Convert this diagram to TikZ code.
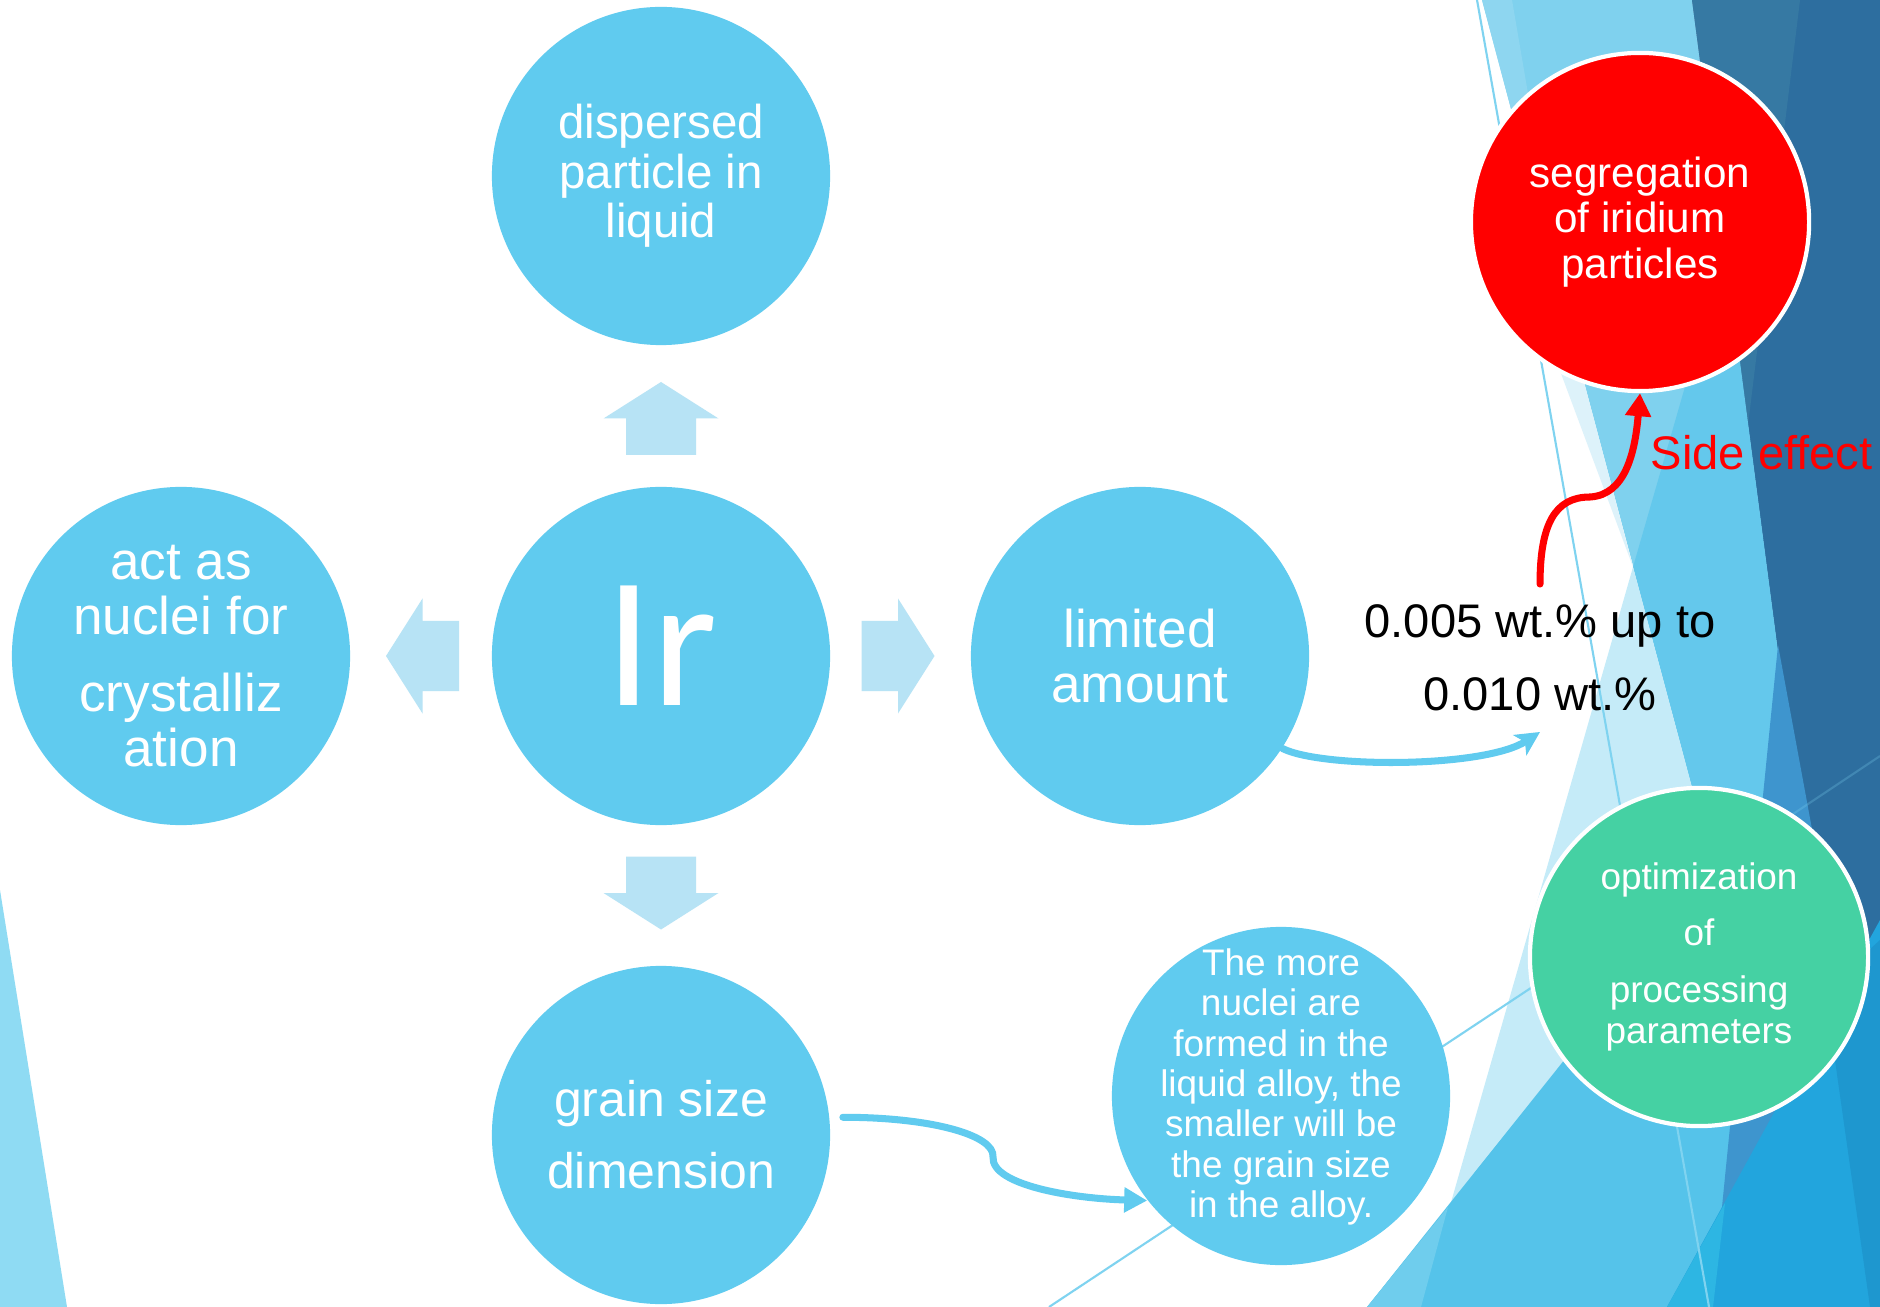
\documentclass[tikz,border=0pt]{standalone}
\usepackage{fontspec}
\setmainfont{Liberation Sans}
\newfontfamily\irfont{Carlito}
\usetikzlibrary{arrows.meta}
\definecolor{bubbleblue}{HTML}{60CBEF}
\definecolor{arrowblue}{HTML}{B7E3F5}
\definecolor{sidered}{HTML}{FF0000}
\definecolor{mintgreen}{HTML}{45D1A3}
\definecolor{facetdark}{HTML}{2D6E9F}
\definecolor{facetsteel}{HTML}{3679A3}
\definecolor{facetlight}{HTML}{7FD1EE}
\definecolor{facettop}{HTML}{8ED6F0}
\definecolor{facetmist}{HTML}{DDF2FA}
\definecolor{facetmid}{HTML}{64C8EC}
\definecolor{facetpale}{HTML}{C5EBF8}
\definecolor{facetsea}{HTML}{55C3EA}
\definecolor{facetsky}{HTML}{6FCDED}
\definecolor{facetazure}{HTML}{3E95CE}
\definecolor{facetbright}{HTML}{22A5DD}
\definecolor{facetcyan}{HTML}{2DB6E3}
\definecolor{facetdeep}{HTML}{1E97CF}
\definecolor{facetleft}{HTML}{8FDBF3}
\definecolor{facetline}{HTML}{7FD3F0}

\begin{document}
\begin{tikzpicture}[x=0.01cm, y=-0.01cm,
	bubble/.style={circle, fill=bubbleblue, text=white, minimum size=3.38cm, inner sep=0pt, align=center},
	ringed/.style={bubble, draw=white, line width=1.2pt},
	blockarrow/.style={fill=arrowblue},
	flow/.style={draw=bubbleblue, line width=2pt, line cap=round},
	thinline/.style={draw=facetline, line width=0.6pt}]
	\useasboundingbox (0,0) rectangle (1880,1307);
	\fill[white] (0,0) rectangle (1880,1307);

	\fill[facetleft] (0,890) -- (67,1307) -- (0,1307) -- cycle;
	\fill[facetlight] (1482,0) -- (1692,0) -- (1864,1307) -- (1831,1307) -- cycle;
	\fill[facettop] (1482,0) -- (1512,0) -- (1566,316) -- cycle;
	\fill[facetmist] (1515,250) -- (1549,250) -- (1633,567) -- cycle;
	\fill[facetdark] (1692,0) -- (1880,0) -- (1880,1307) -- (1864,1307) -- cycle;
	\fill[facetsteel] (1692,0) -- (1800,0) -- (1748,425) -- cycle;
	\fill[facetmid] (1633,567) -- (1725,248) -- (1864,1307) -- (1831,1307) -- cycle;
	\fill[facetpale] (1633,567) -- (1831,1307) -- (1421,1307) -- cycle;
	\fill[facetsea] (1367,1307) -- (1700,890) -- (1760,1307) -- cycle;
	\fill[facetsky] (1367,1307) -- (1421,1307) -- (1448,1207) -- cycle;
	\fill[facetazure] (1778,645) -- (1880,1198) -- (1880,1307) -- (1712,1307) -- cycle;
	\fill[facetbright] (1667,1307) -- (1880,920) -- (1880,1307) -- cycle;
	\fill[facetcyan] (1667,1307) -- (1725,1203) -- (1713,1307) -- cycle;
	\fill[facetdeep] (1825,990) -- (1880,940) -- (1880,1307) -- (1870,1307) -- cycle;
	\draw[thinline] (1477,0) -- (1709,1307);
	\draw[thinline] (1049,1307) -- (1700,876);
	\draw[thinline, draw opacity=0.25] (1700,876) -- (1880,756);

	\draw (661,176) node[bubble, font=\fontsize{13.5}{14.1}\selectfont] (disp) {dispersed\\particle in\\liquid};
	\draw (661,656) node[bubble, font=\irfont\fontsize{53}{53}\selectfont] (ir) {\raisebox{0.2cm}{Ir}};
	\draw (181,656) node[bubble, font=\fontsize{15.1}{15.6}\selectfont] (nuclei) {act as\\nuclei for\\[6.3pt]crystalliz\\ation};
	\draw (1140,656) node[bubble, font=\fontsize{15.1}{15.6}\selectfont] (limited) {limited\\amount};
	\draw (661,1135) node[bubble, font=\fontsize{14.2}{20.5}\selectfont] (grain) {grain size\\dimension};
	\draw (1281,1096) node[bubble] (more) {};
	\draw ([yshift=0.09cm]more.center) node[text=white, align=center, font=\fontsize{10.5}{11.5}\selectfont] (moretext) {The more\\nuclei are\\formed in the\\liquid alloy, the\\smaller will be\\the grain size\\in the alloy.};
	\draw (1640,222) node[ringed, fill=sidered, font=\fontsize{12}{12.9}\selectfont] (segr) {segregation\\of iridium\\particles};
	\draw (1699,957) node[ringed, fill=mintgreen, font=\fontsize{10.5}{11.7}\selectfont] (optim) {optimization\\[4pt]of\\[4.5pt]processing\\parameters};

	\fill[blockarrow, shift={(661,418.5)}, rotate=90] (-36.5,-35) -- (0,-35) -- (0,-57.5) -- (36.5,0) -- (0,57.5) -- (0,35) -- (-36.5,35) -- cycle;
	\fill[blockarrow, shift={(661,893)}, rotate=-90] (-36.5,-35) -- (0,-35) -- (0,-57.5) -- (36.5,0) -- (0,57.5) -- (0,35) -- (-36.5,35) -- cycle;
	\fill[blockarrow, shift={(898,656)}] (-36.5,-35) -- (0,-35) -- (0,-57.5) -- (36.5,0) -- (0,57.5) -- (0,35) -- (-36.5,35) -- cycle;
	\fill[blockarrow, shift={(422.5,656)}, rotate=180] (-36.5,-35) -- (0,-35) -- (0,-57.5) -- (36.5,0) -- (0,57.5) -- (0,35) -- (-36.5,35) -- cycle;

	\draw (1540,658) node[align=center, inner xsep=2pt, inner ysep=0.2cm, font=\fontsize{13.4}{20.8}\selectfont] (wt) {0.005 wt.\% up to\\0.010 wt.\%};
	\draw (1650,470) node[anchor=base west, inner sep=0pt, text=sidered, font=\fontsize{13.4}{16}\selectfont] (side) {Side effect};

	\draw[flow, -{Stealth[length=0.24cm, width=0.24cm, inset=0.06cm]}] (limited.-33) .. controls +(40,20) and +(-55,36) .. (wt.south);
	\draw[flow, -{Triangle[length=0.23cm, width=0.24cm]}] ([xshift=0.13cm]grain.6) .. controls +(88,0) and +(2,-22) .. (993,1157) .. controls +(-2,28) and +(-75,-2) .. (more.218);
	\draw[flow, draw=sidered, -{Triangle[length=0.23cm, width=0.25cm]}] (wt.north) .. controls +(0,-60) and +(-35,0) .. (1590,497) .. controls +(35,-2) and +(-5,60) .. (segr.south);
\end{tikzpicture}
\end{document}
